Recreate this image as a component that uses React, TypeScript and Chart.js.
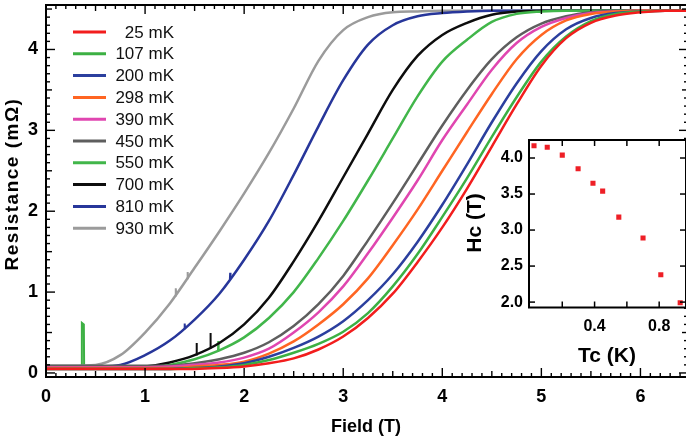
import React, { useEffect, useRef } from "react";
import { Chart, registerables } from "chart.js";

Chart.register(...registerables);

const FONT = '"Liberation Sans", Arial, Helvetica, sans-serif';

// Measurement temperatures and their trace colours
const temperaturesMK = [25, 107, 200, 298, 390, 450, 550, 700, 810, 930];
const traceColors = [
  "#f21d1d",
  "#3cb043",
  "#2b3f9e",
  "#ff6522",
  "#e046b0",
  "#5e5e5e",
  "#41b64a",
  "#0d0d0d",
  "#27369a",
  "#9b9b9b",
];

// Magnetic field sampling (T)
const fieldGrid = [
  0, 0.25, 0.5, 0.75, 1.0, 1.25, 1.5, 1.75, 2.0, 2.25, 2.5, 2.75, 3.0, 3.25,
  3.5, 3.75, 4.0, 4.25, 4.5, 4.75, 5.0, 5.25, 5.5, 5.75, 6.0, 6.25, 6.5,
];

// Resistance (mΩ) at each field value, one list per temperature
const r25 = [0.05, 0.05, 0.05, 0.05, 0.05, 0.05, 0.05, 0.06, 0.08, 0.12, 0.18, 0.29, 0.45, 0.68, 0.98, 1.37, 1.8, 2.28, 2.8, 3.32, 3.8, 4.14, 4.33, 4.42, 4.46, 4.48, 4.48];
const r107 = [0.05, 0.05, 0.05, 0.05, 0.05, 0.05, 0.06, 0.07, 0.1, 0.16, 0.25, 0.36, 0.51, 0.74, 1.07, 1.47, 1.93, 2.41, 2.92, 3.41, 3.85, 4.16, 4.35, 4.44, 4.47, 4.48, 4.48];
const r200 = [0.05, 0.05, 0.05, 0.05, 0.05, 0.05, 0.06, 0.08, 0.12, 0.2, 0.31, 0.45, 0.64, 0.9, 1.22, 1.62, 2.08, 2.58, 3.1, 3.58, 3.98, 4.25, 4.39, 4.45, 4.47, 4.48, 4.48];
const r298 = [0.06, 0.06, 0.06, 0.06, 0.06, 0.06, 0.08, 0.1, 0.14, 0.24, 0.39, 0.6, 0.85, 1.17, 1.58, 2.02, 2.5, 2.98, 3.45, 3.88, 4.18, 4.36, 4.44, 4.47, 4.48, 4.48, 4.48];
const r390 = [0.07, 0.07, 0.07, 0.07, 0.07, 0.08, 0.1, 0.13, 0.19, 0.3, 0.5, 0.75, 1.07, 1.48, 1.92, 2.38, 2.88, 3.32, 3.75, 4.08, 4.28, 4.39, 4.45, 4.47, 4.48, 4.48, 4.48];
const r450 = [0.09, 0.09, 0.09, 0.09, 0.09, 0.09, 0.12, 0.17, 0.25, 0.38, 0.58, 0.85, 1.2, 1.64, 2.1, 2.58, 3.06, 3.5, 3.88, 4.15, 4.32, 4.41, 4.46, 4.48, 4.48, 4.48, 4.48];
const r550 = [0.06, 0.06, 0.06, 0.06, 0.07, 0.1, 0.17, 0.28, 0.44, 0.68, 1.0, 1.42, 1.88, 2.38, 2.9, 3.42, 3.85, 4.12, 4.34, 4.44, 4.47, 4.48, 4.48, 4.48, 4.48, 4.48, 4.48];
const r700 = [0.07, 0.07, 0.07, 0.07, 0.08, 0.13, 0.22, 0.37, 0.6, 0.93, 1.38, 1.88, 2.42, 2.96, 3.5, 3.92, 4.18, 4.33, 4.43, 4.47, 4.48, 4.48, 4.48, 4.48, 4.48, 4.48, 4.48];
const r810 = [0.07, 0.07, 0.08, 0.1, 0.22, 0.4, 0.66, 0.98, 1.4, 1.88, 2.45, 3.05, 3.62, 4.06, 4.3, 4.41, 4.45, 4.47, 4.48, 4.48, 4.48, 4.48, 4.48, 4.48, 4.48, 4.48, 4.48];
const r930 = [0.09, 0.09, 0.1, 0.22, 0.5, 0.86, 1.3, 1.75, 2.22, 2.72, 3.27, 3.86, 4.24, 4.4, 4.46, 4.47, 4.48, 4.48, 4.48, 4.48, 4.48, 4.48, 4.48, 4.48, 4.48, 4.48, 4.48];
const resistanceSeries = [r25, r107, r200, r298, r390, r450, r550, r700, r810, r930];

// Short glitches in the sweeps: [temperature mK, field T, width T, jump mΩ]
const glitches: [number, number, number, number][] = [
  [107, 0.372, 0.026, 0.57],
  [700, 1.52, 0.008, 0.14],
  [700, 1.66, 0.008, 0.18],
  [550, 1.74, 0.008, 0.12],
  [930, 1.31, 0.008, 0.09],
  [930, 1.43, 0.008, 0.08],
  [810, 1.4, 0.008, 0.06],
  [810, 1.86, 0.008, 0.08],
];

// Main axis ticks
const fieldTicks = [0, 1, 2, 3, 4, 5, 6];
const resistanceTicks = [0, 1, 2, 3, 4];

// Inset: critical field against critical temperature
const tcK = [0.025, 0.107, 0.2, 0.298, 0.39, 0.45, 0.55, 0.7, 0.81, 0.93];
const hcT = [4.17, 4.15, 4.04, 3.85, 3.65, 3.54, 3.18, 2.89, 2.38, 1.99];
const tcTickMarks = [0.2, 0.4, 0.6, 0.8];
const tcTickLabels = [0.4, 0.8];
const hcTicks = [2.0, 2.5, 3.0, 3.5, 4.0];

function line(ctx: CanvasRenderingContext2D, x1: number, y1: number, x2: number, y2: number) {
  ctx.beginPath();
  ctx.moveTo(x1, y1);
  ctx.lineTo(x2, y2);
  ctx.stroke();
}

// resistance of a sweep at an arbitrary field, between its samples
function sweepValueAt(idx: number, field: number) {
  const r = resistanceSeries[idx];
  for (let i = 0; i < fieldGrid.length - 1; i++) {
    if (field >= fieldGrid[i] && field <= fieldGrid[i + 1]) {
      const t = (field - fieldGrid[i]) / (fieldGrid[i + 1] - fieldGrid[i]);
      return r[i] + t * (r[i + 1] - r[i]);
    }
  }
  return r[r.length - 1];
}

const mainFrame = {
  id: "mainFrame",
  afterDatasetsDraw(chart: any) {
    const { ctx, chartArea: a, scales } = chart;
    const x = scales.x;
    const y = scales.y;
    ctx.save();
    ctx.strokeStyle = "#000";
    ctx.lineWidth = 2;
    ctx.strokeRect(a.left, a.top, a.right - a.left, a.bottom - a.top);
    ctx.lineWidth = 1.4;
    for (let i = 0; i <= 64; i++) {
      const px = x.getPixelForValue(i / 10);
      const len = i % 10 === 0 ? 9 : i % 5 === 0 ? 6 : 4;
      line(ctx, px, a.bottom, px, a.bottom - len);
      line(ctx, px, a.top, px, a.top + len);
    }
    for (let i = 0; i <= 45; i++) {
      const py = y.getPixelForValue(i / 10);
      const len = i % 10 === 0 ? 9 : i % 5 === 0 ? 6 : 4;
      line(ctx, a.left, py, a.left + len, py);
      line(ctx, a.right, py, a.right - len, py);
    }

    ctx.fillStyle = "#000";
    ctx.font = `bold 18px ${FONT}`;
    ctx.textAlign = "center";
    ctx.textBaseline = "middle";
    fieldTicks.forEach((v) => ctx.fillText(String(v), x.getPixelForValue(v), 397));
    ctx.textAlign = "right";
    resistanceTicks.forEach((v) => ctx.fillText(String(v), 38, y.getPixelForValue(v)));

    ctx.textAlign = "center";
    ctx.fillText("Field (T)", 366, 427);

    ctx.save();
    ctx.translate(13, 184);
    ctx.rotate(-Math.PI / 2);
    ctx.font = `bold 19px ${FONT}`;
    (ctx as any).letterSpacing = "1.5px";
    ctx.fillText("Resistance (mΩ)", 0, 0);
    ctx.restore();

    // legend
    ctx.font = `17px ${FONT}`;
    ctx.textAlign = "right";
    temperaturesMK.forEach((t, i) => {
      const ry = 32 + i * 21.8;
      ctx.strokeStyle = traceColors[i];
      ctx.lineWidth = 3;
      line(ctx, 73, ry, 106, ry);
      ctx.fillStyle = "#111";
      ctx.fillText(`${t} mK`, 174, ry + 1);
    });
    ctx.restore();
  },
};

const insetFrame = {
  id: "insetFrame",
  beforeDraw(chart: any) {
    const { ctx, chartArea: a } = chart;
    ctx.save();
    ctx.fillStyle = "#fff";
    ctx.fillRect(a.left, a.top, a.right - a.left, a.bottom - a.top);
    ctx.restore();
  },
  afterDatasetsDraw(chart: any) {
    const { ctx, chartArea: a, scales } = chart;
    const x = scales.x;
    const y = scales.y;
    ctx.save();
    ctx.strokeStyle = "#000";
    ctx.lineWidth = 2;
    ctx.strokeRect(a.left, a.top, a.right - a.left, a.bottom - a.top);
    ctx.lineWidth = 1.5;
    tcTickMarks.forEach((v) => {
      const px = x.getPixelForValue(v);
      line(ctx, px, a.bottom, px, a.bottom - 6);
      line(ctx, px, a.top, px, a.top + 6);
    });
    hcTicks.forEach((v) => {
      const py = y.getPixelForValue(v);
      line(ctx, a.left, py, a.left + 6, py);
      line(ctx, a.right, py, a.right - 6, py);
    });
    ctx.fillStyle = "#000";
    ctx.font = `bold 16px ${FONT}`;
    ctx.textAlign = "center";
    ctx.textBaseline = "middle";
    tcTickLabels.forEach((v) => ctx.fillText(v.toFixed(1), x.getPixelForValue(v), 217));
    ctx.textAlign = "right";
    hcTicks.forEach((v) => ctx.fillText(v.toFixed(1), 63, y.getPixelForValue(v)));
    ctx.font = `bold 21px ${FONT}`;
    ctx.textAlign = "center";
    ctx.fillText("Tc (K)", 147, 246);
    ctx.save();
    ctx.translate(15, 113);
    ctx.rotate(-Math.PI / 2);
    ctx.fillText("Hc (T)", 0, 0);
    ctx.restore();
    ctx.restore();
  },
};

export default function App() {
  const mainRef = useRef<HTMLCanvasElement>(null);
  const insetRef = useRef<HTMLCanvasElement>(null);

  useEffect(() => {
    document.body.style.margin = "0";

    const sweeps = temperaturesMK.map((t, i) => ({
      label: `${t} mK`,
      data: fieldGrid.map((f, k) => ({ x: f, y: resistanceSeries[i][k] })),
      borderColor: traceColors[i],
      backgroundColor: traceColors[i],
      borderWidth: 2.5,
      pointRadius: 0,
      cubicInterpolationMode: "monotone" as const,
      fill: false,
    }));

    const glitchSets = glitches.map(([t, f, w, jump]) => {
      const idx = temperaturesMK.indexOf(t);
      const b0 = sweepValueAt(idx, f - w / 2);
      const b1 = sweepValueAt(idx, f + w / 2);
      return {
        label: "",
        data: [
          { x: f - w / 2, y: b0 },
          { x: f - w / 2 + 0.003, y: b0 + jump },
          { x: f + w / 2 - 0.003, y: b1 + jump - 0.02 },
          { x: f + w / 2, y: b1 },
        ],
        borderColor: traceColors[idx],
        borderWidth: 2,
        pointRadius: 0,
        tension: 0,
        fill: false,
      };
    });

    const main = new Chart(mainRef.current!, {
      type: "line",
      data: { datasets: [...sweeps, ...glitchSets] as any },
      options: {
        animation: false,
        responsive: false,
        maintainAspectRatio: false,
        layout: { padding: { left: 46, top: 5, right: 4, bottom: 64 } },
        scales: {
          x: { type: "linear", min: 0, max: 6.48, display: false },
          y: { type: "linear", min: -0.05, max: 4.55, display: false },
        },
        plugins: { legend: { display: false }, tooltip: { enabled: false } },
      },
      plugins: [mainFrame],
    });

    const inset = new Chart(insetRef.current!, {
      type: "scatter",
      data: {
        datasets: [
          {
            label: "Hc",
            data: tcK.map((t, i) => ({ x: t, y: hcT[i] })),
            pointStyle: "rect",
            pointRadius: 3.6,
            borderWidth: 0,
            backgroundColor: "#ee1f26",
            borderColor: "#ee1f26",
          },
        ],
      },
      options: {
        animation: false,
        responsive: false,
        maintainAspectRatio: false,
        layout: { padding: { left: 69, top: 30, right: 3, bottom: 72.5 } },
        scales: {
          x: { type: "linear", min: -0.006, max: 0.966, display: false },
          y: { type: "linear", min: 1.925, max: 4.25, display: false },
        },
        plugins: { legend: { display: false }, tooltip: { enabled: false } },
      },
      plugins: [insetFrame],
    });

    return () => {
      main.destroy();
      inset.destroy();
    };
  }, []);

  return (
    <div
      style={{
        position: "fixed",
        left: 0,
        top: 0,
        width: 686,
        height: 441,
        overflow: "hidden",
        background: "#fff",
      }}
    >
      <canvas
        ref={mainRef}
        width={692}
        height={441}
        style={{ position: "absolute", left: 0, top: 0, width: 692, height: 441 }}
      />
      <canvas
        ref={insetRef}
        width={230}
        height={270}
        style={{ position: "absolute", left: 460, top: 110, width: 230, height: 270 }}
      />
    </div>
  );
}
